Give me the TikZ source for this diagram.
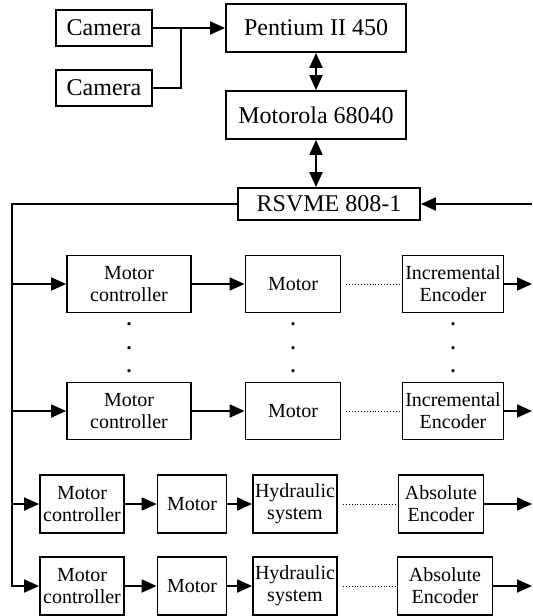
\documentclass[tikz,border=0pt]{standalone}
\usepackage{fontspec}
\setmainfont{Liberation Serif}
\usetikzlibrary{arrows.meta,positioning}

\begin{document}
\begin{tikzpicture}[->,>={Triangle[length=7.5pt,width=6.5pt]},line width=0.9pt,
                    node distance=30pt]
    \tikzstyle{block}=[draw,rectangle,inner sep=0pt,align=center,minimum height=28.5pt,
                       font=\fontsize{10}{11}\selectfont]
    \tikzstyle{bigblock}=[block,minimum height=24pt,font=\fontsize{12}{14}\selectfont]
    \tikzstyle{link}=[-,densely dotted,line width=0.45pt,shorten <=2.5pt]
    \tikzstyle{vdots}=[align=center,inner sep=0pt,font=\fontsize{10}{11.75}\selectfont\bfseries]

    \useasboundingbox (0,0) rectangle (266pt,-308pt);

    \node[bigblock,minimum width=48pt,minimum height=18pt] (cam1) at (52pt,-14pt) {Camera};
    \node[bigblock,minimum width=48pt,minimum height=18pt] (cam2) [below of=cam1] {Camera};
    \node[bigblock,minimum width=90pt] (pent) [right of=cam1,node distance=106pt] {Pentium II 450};
    \node[bigblock,minimum width=90pt] (moto) [below of=pent,node distance=43.5pt] {Motorola 68040};
    \node[bigblock,minimum width=91pt,minimum height=16pt] (rsv)
         [below of=moto,node distance=44.5pt,xshift=6.5pt] {RSVME 808-1};

    % incremental axes
    \node[block,minimum width=62pt]   (mc1) at (64.5pt,-142pt)           {Motor\\controller};
    \node[block,minimum width=47.5pt] (mot1) [right of=mc1,node distance=82pt] {Motor};
    \node[block,minimum width=50.5pt] (enc1) [right of=mot1,node distance=80pt] {Incremental\\Encoder};
    \node[vdots] (vd1) [below of=mc1,node distance=32pt]  {.\\.\\.};
    \node[vdots] (vd2) [below of=mot1,node distance=32pt] {.\\.\\.};
    \node[vdots] (vd3) [below of=enc1,node distance=32pt] {.\\.\\.};
    \node[block,minimum width=62pt]   (mc2) [below of=mc1,node distance=63.5pt] {Motor\\controller};
    \node[block,minimum width=47.5pt] (mot2) [right of=mc2,node distance=82pt] {Motor};
    \node[block,minimum width=50.5pt] (enc2) [right of=mot2,node distance=80pt] {Incremental\\Encoder};

    % hydraulic axes
    \node[block,minimum width=42pt,minimum height=29pt]   (mc3) at (41pt,-252pt) {Motor\\controller};
    \node[block,minimum width=34.5pt,minimum height=29pt] (mot3) [right of=mc3,node distance=55pt] {Motor};
    \node[block,minimum width=42pt,minimum height=29pt]   (hyd3) [right of=mot3,node distance=51.5pt] {Hydraulic\\system};
    \node[block,minimum width=42.5pt,minimum height=29pt] (abs3) [right of=hyd3,node distance=73pt] {Absolute\\Encoder};
    \node[block,minimum width=42pt,minimum height=29pt]   (mc4) [below of=mc3,node distance=41pt] {Motor\\controller};
    \node[block,minimum width=34.5pt,minimum height=29pt] (mot4) [right of=mc4,node distance=55pt] {Motor};
    \node[block,minimum width=42pt,minimum height=29pt]   (hyd4) [right of=mot4,node distance=51.5pt] {Hydraulic\\system};
    \node[block,minimum width=47.5pt,minimum height=29pt] (abs4) [right of=hyd4,node distance=75pt] {Absolute\\Encoder};

    \coordinate (bus)  at (6pt,0);
    \coordinate (edge) at (266pt,0);
    \coordinate (jn)   at (90.5pt,0);

    \draw[-] (cam2.east) -| (jn |- cam1.east);
    \draw (cam1.east) -- (pent.west);
    \draw[<->] (pent) -- (moto);
    \draw[<->] (moto.south) -- (moto.south |- rsv.north);
    \draw (rsv.east -| edge) -- (rsv.east);
    \draw (rsv.west) -| (bus |- mc4.west) -- (mc4.west);
    \draw (bus |- mc1.west) -- (mc1.west);
    \draw (bus |- mc2.west) -- (mc2.west);
    \draw (bus |- mc3.west) -- (mc3.west);

    \draw (mc1) -- (mot1);
    \draw[link] (mot1) -- (enc1);
    \draw (enc1.east) -- (enc1.east -| edge);
    \draw (mc2) -- (mot2);
    \draw[link] (mot2) -- (enc2);
    \draw (enc2.east) -- (enc2.east -| edge);

    \draw (mc3) -- (mot3);
    \draw (mot3) -- (hyd3);
    \draw[link] (hyd3) -- (abs3);
    \draw (abs3.east) -- (abs3.east -| edge);
    \draw (mc4) -- (mot4);
    \draw (mot4) -- (hyd4);
    \draw[link] (hyd4) -- (abs4);
    \draw (abs4.east) -- (abs4.east -| edge);
\end{tikzpicture}
\end{document}
